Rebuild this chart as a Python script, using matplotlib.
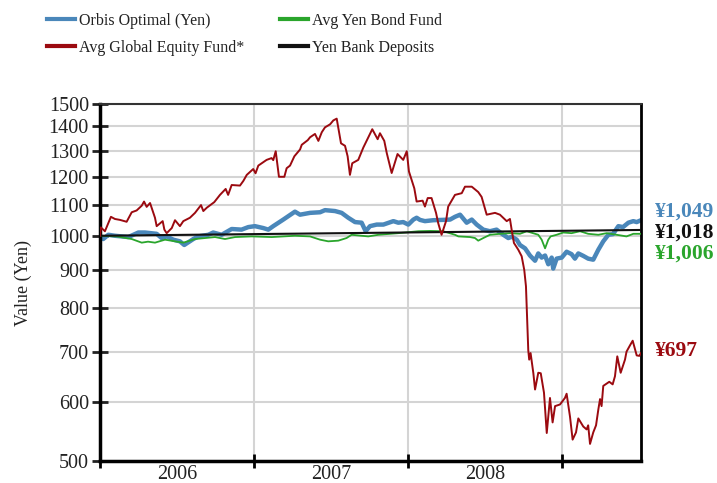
import matplotlib
matplotlib.use('Agg')
import matplotlib.pyplot as plt
from matplotlib.ticker import FixedLocator, NullLocator, NullFormatter, FixedFormatter
from matplotlib.lines import Line2D

plt.rcParams['font.family'] = ['Liberation Serif', 'DejaVu Serif']

# Time in fractional years, values in yen (start = 1000)
equity_t = [2006.000, 2006.006, 2006.032, 2006.071, 2006.097, 2006.130, 2006.173, 2006.206, 2006.238,
            2006.271, 2006.286, 2006.303, 2006.325, 2006.357, 2006.368, 2006.407, 2006.418, 2006.433,
            2006.466, 2006.487, 2006.519, 2006.541, 2006.584, 2006.617, 2006.656, 2006.671, 2006.693,
            2006.742, 2006.779, 2006.816, 2006.832, 2006.855, 2006.909, 2006.931, 2006.953, 2006.995,
            2007.010, 2007.028, 2007.050, 2007.082, 2007.114, 2007.125, 2007.141, 2007.162, 2007.197,
            2007.212, 2007.234, 2007.262, 2007.299, 2007.310, 2007.349, 2007.364, 2007.396, 2007.418,
            2007.440, 2007.461, 2007.494, 2007.515, 2007.537, 2007.565, 2007.591, 2007.608, 2007.623,
            2007.638, 2007.677, 2007.710, 2007.753, 2007.768, 2007.803, 2007.818, 2007.846, 2007.862,
            2007.894, 2007.932, 2007.969, 2007.992, 2008.006, 2008.041, 2008.056, 2008.095, 2008.110,
            2008.128, 2008.153, 2008.182, 2008.196, 2008.218, 2008.247, 2008.261, 2008.305, 2008.349,
            2008.370, 2008.414, 2008.456, 2008.478, 2008.511, 2008.565, 2008.597, 2008.641, 2008.662,
            2008.673, 2008.688, 2008.716, 2008.738, 2008.755, 2008.766, 2008.774, 2008.781, 2008.787,
            2008.796, 2008.814, 2008.825, 2008.846, 2008.862, 2008.883, 2008.901, 2008.922, 2008.939,
            2008.955, 2008.987, 2009.019, 2009.030, 2009.052, 2009.069, 2009.091, 2009.106, 2009.138,
            2009.160, 2009.170, 2009.182, 2009.203, 2009.221, 2009.236, 2009.247, 2009.257, 2009.268,
            2009.307, 2009.329, 2009.344, 2009.359, 2009.381, 2009.409, 2009.419, 2009.442, 2009.459,
            2009.485, 2009.502, 2009.513]
equity_v = [1000, 1026, 1014, 1060, 1053, 1050, 1044, 1075, 1081,
            1097, 1111, 1093, 1106, 1057, 1030, 1046, 1019, 1008,
            1024, 1049, 1030, 1046, 1057, 1073, 1099, 1079, 1090,
            1109, 1134, 1155, 1134, 1169, 1167, 1184, 1206, 1228,
            1212, 1241, 1250, 1263, 1270, 1262, 1297, 1199, 1199,
            1231, 1241, 1277, 1304, 1323, 1342, 1354, 1368, 1339,
            1375, 1396, 1409, 1426, 1434, 1329, 1319, 1277, 1206,
            1250, 1263, 1312, 1368, 1388, 1346, 1371, 1339, 1290,
            1213, 1286, 1263, 1297, 1219, 1157, 1111, 1114, 1094,
            1123, 1123, 1073, 1040, 1003, 1046, 1094, 1134, 1140,
            1163, 1163, 1144, 1127, 1067, 1073, 1067, 1046, 1053,
            1019, 978, 958, 939, 900, 856, 773, 703, 683,
            697, 655, 623, 656, 655, 617, 545, 607, 563,
            592, 595, 607, 615, 573, 534, 546, 570, 556,
            551, 558, 527, 546, 558, 586, 605, 592, 630,
            638, 633, 649, 690, 656, 683, 700, 714, 724,
            692, 691, 697]

orbis_t = [2006.000, 2006.021, 2006.054, 2006.097, 2006.184, 2006.249, 2006.292, 2006.368, 2006.400,
           2006.433, 2006.476, 2006.519, 2006.547, 2006.606, 2006.638, 2006.703, 2006.735, 2006.790,
           2006.855, 2006.919, 2006.963, 2007.006, 2007.060, 2007.093, 2007.125, 2007.190, 2007.266,
           2007.299, 2007.364, 2007.429, 2007.461, 2007.526, 2007.569, 2007.612, 2007.656, 2007.699,
           2007.725, 2007.753, 2007.797, 2007.840, 2007.905, 2007.937, 2007.969, 2008.002, 2008.035,
           2008.056, 2008.078, 2008.110, 2008.164, 2008.273, 2008.305, 2008.338, 2008.381, 2008.414,
           2008.446, 2008.489, 2008.532, 2008.575, 2008.619, 2008.651, 2008.675, 2008.706, 2008.727,
           2008.760, 2008.792, 2008.825, 2008.846, 2008.868, 2008.890, 2008.911, 2008.933, 2008.943,
           2008.965, 2008.998, 2009.030, 2009.062, 2009.084, 2009.106, 2009.138, 2009.170, 2009.203,
           2009.236, 2009.268, 2009.301, 2009.331, 2009.366, 2009.396, 2009.431, 2009.463, 2009.485,
           2009.513]
orbis_v = [1000, 990, 1003, 1000, 996, 1010, 1010, 1006, 993,
           998, 988, 983, 972, 990, 998, 1003, 1010, 1003,
           1021, 1019, 1027, 1030, 1024, 1019, 1030, 1051, 1077,
           1067, 1073, 1075, 1082, 1079, 1073, 1057, 1043, 1041,
           1014, 1030, 1035, 1035, 1046, 1041, 1043, 1035, 1051,
           1057, 1050, 1046, 1049, 1051, 1060, 1067, 1041, 1051,
           1035, 1019, 1014, 1019, 1003, 993, 997, 988, 972,
           962, 941, 926, 947, 935, 941, 916, 935, 904,
           932, 935, 952, 945, 932, 947, 940, 932, 929,
           958, 983, 1003, 1005, 1030, 1027, 1041, 1046, 1043,
           1049]

bond_t = [2006.000, 2006.110, 2006.206, 2006.271, 2006.312, 2006.357, 2006.422, 2006.487, 2006.541,
          2006.584, 2006.617, 2006.682, 2006.747, 2006.812, 2006.877, 2006.985, 2007.115, 2007.266,
          2007.364, 2007.429, 2007.482, 2007.547, 2007.601, 2007.634, 2007.742, 2007.807, 2007.937,
          2008.067, 2008.143, 2008.229, 2008.305, 2008.327, 2008.403, 2008.435, 2008.456, 2008.489,
          2008.532, 2008.597, 2008.662, 2008.727, 2008.771, 2008.812, 2008.846, 2008.868, 2008.890,
          2008.911, 2008.926, 2008.965, 2009.008, 2009.062, 2009.117, 2009.170, 2009.236, 2009.290,
          2009.355, 2009.419, 2009.463, 2009.513]
bond_v = [1000, 998, 990, 979, 982, 979, 988, 983, 979,
          985, 990, 993, 996, 990, 996, 998, 996, 1000,
          998, 988, 983, 985, 993, 1003, 998, 1003, 1008,
          1014, 1015, 1014, 1003, 998, 996, 993, 985, 993,
          1003, 1006, 1008, 1006, 1014, 1008, 1003, 988, 962,
          988, 998, 1003, 1010, 1008, 1014, 1006, 1003, 1008,
          1003, 998, 1006, 1006]

deposit_t = [2006.000, 2009.513]
deposit_v = [1000, 1018]

end_labels = ['¥1,049', '¥1,018', '¥1,006', '¥697']
year_labels = ['2006', '2007', '2008']

blue = '#4a87ba'
red = '#9b0a10'
green = '#2aa52c'
black = '#111111'

fig = plt.figure(figsize=(7.17, 4.83), dpi=100)
ax = fig.add_axes([100 / 717, 22 / 483, 541 / 717, 357 / 483])

ax.plot(deposit_t, deposit_v, color=black, lw=1.5, zorder=4)
ax.plot(bond_t, bond_v, color=green, lw=1.3, zorder=3)
ax.plot(orbis_t, orbis_v, color=blue, lw=3.2, zorder=2)
ax.plot(equity_t, equity_v, color=red, lw=1.4, zorder=5)

ax.set_yscale('log')
ax.set_ylim(500, 1500)
ax.set_xlim(2006.0, 2009.513)
yt = list(range(500, 1501, 100))
ax.yaxis.set_major_locator(FixedLocator(yt))
ax.yaxis.set_major_formatter(FixedFormatter([str(v) for v in yt]))
ax.yaxis.set_minor_locator(NullLocator())
ax.yaxis.set_minor_formatter(NullFormatter())

ax.xaxis.set_major_locator(FixedLocator([2006, 2007, 2008, 2009]))
ax.xaxis.set_major_formatter(NullFormatter())
ax.xaxis.set_minor_locator(FixedLocator([2006.5, 2007.5, 2008.5]))
ax.xaxis.set_minor_formatter(FixedFormatter(year_labels))

ax.grid(True, which='major', axis='both', color='#d4d4d4', lw=1.5, zorder=0)
ax.set_axisbelow(True)

ax.tick_params(axis='y', which='major', direction='inout', length=12, width=2,
               labelsize=14.5, colors='#222222', pad=2)
ax.tick_params(axis='x', which='major', direction='inout', length=10, width=2)
ax.tick_params(axis='x', which='minor', length=0, labelsize=14.5, labelcolor='#222222', pad=3)

ax.spines['left'].set_linewidth(2.5)
ax.spines['bottom'].set_linewidth(2.5)
ax.spines['right'].set_linewidth(2)
ax.spines['top'].set_linewidth(1.5)
ax.spines['top'].set_color('#333333')
for s in ['left', 'bottom', 'right']:
    ax.spines[s].set_color('black')

ax.set_ylabel('Value (Yen)', fontsize=13, color='#222222', labelpad=12)

label_colors = [blue, black, green, red]
label_y = [0.6975, 0.6387, 0.5798, 0.308]
for txt, c, yy in zip(end_labels, label_colors, label_y):
    ax.text(1.026, yy, txt, transform=ax.transAxes, color=c, fontsize=15.5,
            fontweight='bold', va='center', ha='left')

# legend: two columns placed separately
left_handles = [Line2D([], [], color=blue, lw=3), Line2D([], [], color=red, lw=3)]
left_names = ['Orbis Optimal (Yen)', 'Avg Global Equity Fund*']
right_handles = [Line2D([], [], color=green, lw=3), Line2D([], [], color=black, lw=3)]
right_names = ['Avg Yen Bond Fund', 'Yen Bank Deposits']
for h, n, x0 in [(left_handles, left_names, 47 / 717), (right_handles, right_names, 280 / 717)]:
    fig.legend(h, n, loc='upper left', bbox_to_anchor=(x0, 0.974), frameon=False,
               fontsize=11.5, handlelength=1.75, handletextpad=0.25, labelspacing=0.69,
               borderpad=0, borderaxespad=0, labelcolor='#222222')

plt.savefig('out.png', dpi=100)
